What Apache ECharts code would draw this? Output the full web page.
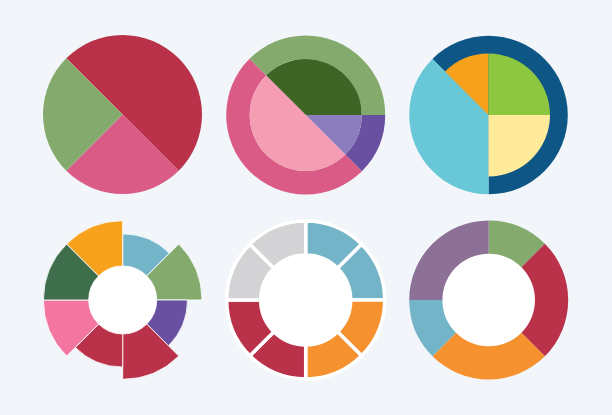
<!DOCTYPE html>
<html>
<head>
<meta charset="utf-8">
<script src="https://cdn.jsdelivr.net/npm/echarts@6/dist/echarts.min.js"></script>
<style>
html,body{margin:0;padding:0;background:#F2F6FA;}
#c{width:612px;height:415px;}
</style>
</head>
<body>
<div id="c"></div>
<script>
// Chart 1: simple pie
const pie1Values = [50, 25, 25];
const pie1Colors = ['#B9324A', '#DB5B87', '#85AA6E'];
// Chart 2: pie with outer ring
const pie2OuterValues = [37.5, 12.5, 50];
const pie2OuterColors = ['#85AA6E', '#6A50A0', '#DB5B87'];
const pie2InnerValues = [37.5, 12.5, 50];
const pie2InnerColors = ['#3F6526', '#8A7EBE', '#F49DB3'];
// Chart 3: pie with partial ring
const pie3OuterValues = [62.5, 37.5];
const pie3OuterColors = ['#0E5686', '#69C8D7'];
const pie3InnerValues = [12.5, 25, 25, 37.5];
const pie3InnerColors = ['#F7A11C', '#8DC63F', '#FFEA99', 'rgba(0,0,0,0)'];
// Chart 4: rose (nightingale) chart
const roseValues = [71, 100, 68, 100, 73, 100, 100, 100];
const roseColors = ['#73B4C8', '#85AA6E', '#6A50A0', '#B9324A', '#B9324A', '#F376A0', '#3E6E4C', '#F7A11C'];
// Chart 5: segmented donut
const seg5Values = [1, 1, 1, 1, 1, 1, 1, 1];
const seg5Colors = ['#73B4C8', '#73B4C8', '#F5922F', '#F5922F', '#B9324A', '#B9324A', '#D3D3D5', '#D3D3D5'];
// Chart 6: donut
const donut6Values = [12.5, 25, 25, 12.5, 25];
const donut6Colors = ['#85AA6E', '#B9324A', '#F5922F', '#73B4C8', '#8D7095'];

function mk(values, colors) {
  return values.map((v, i) => ({ value: v, itemStyle: { color: colors[i] } }));
}
const base = {
  type: 'pie',
  label: { show: false },
  labelLine: { show: false },
  emphasis: { disabled: true },
  silent: true,
  animation: false,
  clockwise: true,
  avoidLabelOverlap: false
};
function disc(center, r) {
  return Object.assign({}, base, { center: center, radius: [0, r], data: [{ value: 1, itemStyle: { color: '#FFFFFF' } }] });
}

const chart = echarts.init(document.getElementById('c'), null, { renderer: 'canvas' });
chart.setOption({
  backgroundColor: '#F2F6FA',
  animation: false,
  series: [
    Object.assign({}, base, { center: [122.5, 114.5], radius: [0, 79.5], startAngle: 135, data: mk(pie1Values, pie1Colors) }),
    Object.assign({}, base, { center: [305.7, 115], radius: [56, 79.5], startAngle: 135, data: mk(pie2OuterValues, pie2OuterColors) }),
    Object.assign({}, base, { center: [305.7, 115], radius: [0, 56], startAngle: 135, data: mk(pie2InnerValues, pie2InnerColors) }),
    Object.assign({}, base, { center: [488.5, 115], radius: [0, 79.3], startAngle: 135, data: mk(pie3OuterValues, pie3OuterColors) }),
    Object.assign({}, base, { center: [488.5, 115], radius: [0, 61.5], startAngle: 135, data: mk(pie3InnerValues, pie3InnerColors) }),
    disc([122.7, 300], 35),
    Object.assign({}, base, { center: [122.7, 300], radius: [34, 79.3], startAngle: 90, roseType: 'area',
      itemStyle: { borderColor: 'rgba(255,255,255,0.85)', borderWidth: 1 },
      data: mk(roseValues, roseColors) }),
    disc([305.7, 300], 80.5),
    Object.assign({}, base, { center: [305.7, 300], radius: [45, 79], startAngle: 90,
      itemStyle: { borderColor: '#FFFFFF', borderWidth: 3.5 },
      data: mk(seg5Values, seg5Colors) }),
    disc([488.7, 300], 47),
    Object.assign({}, base, { center: [488.7, 300], radius: [46.3, 79.5], startAngle: 90, data: mk(donut6Values, donut6Colors) })
  ]
});
</script>
</body>
</html>
